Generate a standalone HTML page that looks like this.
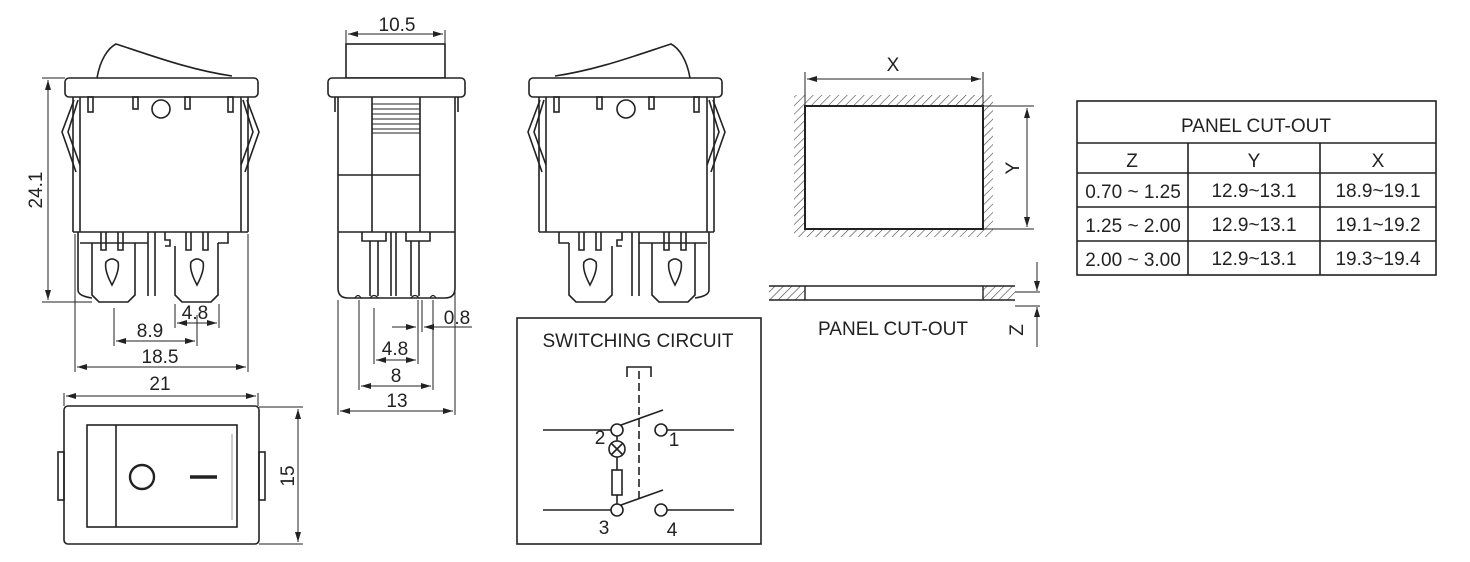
<!DOCTYPE html>
<html><head><meta charset="utf-8"><style>
html,body{margin:0;padding:0;background:#fff;}
svg{display:block;font-family:"Liberation Sans",sans-serif;}
</style></head><body>
<svg width="1470" height="562" viewBox="0 0 1470 562" xmlns="http://www.w3.org/2000/svg">
<defs>
<marker id="a" viewBox="0 0 10 6" refX="10" refY="3" markerWidth="10" markerHeight="6" orient="auto-start-reverse" markerUnits="userSpaceOnUse"><path d="M0,0 L10,3 L0,6 z" fill="#222"/></marker>
<pattern id="h" width="6" height="6" patternUnits="userSpaceOnUse" patternTransform="rotate(45)"><line x1="0" y1="0" x2="0" y2="6" stroke="#444" stroke-width="1.2"/></pattern>
<g id="front" fill="none" stroke="#222" stroke-width="1.6">
<path d="M97,78 C100,60 108,48 116,44 C150,55 190,70 232,76"/>
<rect x="65" y="78" width="193" height="19" rx="4" fill="#fff"/>
<path d="M73,97 V232 M248,97 V232 M80,97 V232 M241,97 V232"/>
<path d="M73,232 H248"/>
<path d="M74,100 L62,132 L76,172 M78,100 L68,132 L80,165 M247,100 L259,132 L245,172 M243,100 L253,132 L241,165"/>
<rect x="88" y="97" width="5" height="15"/><rect x="133" y="97" width="5" height="12"/><rect x="185" y="97" width="5" height="12"/><rect x="228" y="97" width="5" height="15"/>
<circle cx="161" cy="109" r="9"/>
<path d="M78,232 V290 Q78,296 92,298"/>
<path d="M92,243 V295 L99,302 H128 L135,295 V243"/>
<path d="M80,243 H148 M101,232 V250 H106 V232 M118,232 V250 H123 V232"/>
<path d="M148,232 V296 M155,232 V296"/>
<path d="M165,232 V240 H170 V246 H165 M175,246 V295 L182,302 H211 L218,295 V243 M218,243 H228 V232 M186,232 V250 H191 V232 M203,232 V250 H208 V232"/>
<path d="M106,262 Q112,256 118,262 Q120,270 112,285 Q104,270 106,262 z"/>
<path d="M191,262 Q197,256 203,262 Q205,270 197,285 Q189,270 191,262 z"/>
</g>
</defs>

<use href="#front"/>
<g stroke="#222" stroke-width="1" fill="none">
<line x1="42" y1="78" x2="65" y2="78"/><line x1="42" y1="302" x2="92" y2="302"/>
<line x1="48" y1="80" x2="48" y2="300" marker-start="url(#a)" marker-end="url(#a)"/>
<line x1="75" y1="234" x2="75" y2="372"/><line x1="248" y1="234" x2="248" y2="372"/>
<line x1="77" y1="367" x2="246" y2="367" marker-start="url(#a)" marker-end="url(#a)"/>
<line x1="114" y1="308" x2="114" y2="346"/><line x1="197" y1="315" x2="197" y2="346"/>
<line x1="116" y1="341" x2="195" y2="341" marker-start="url(#a)" marker-end="url(#a)"/>
<line x1="175" y1="304" x2="175" y2="328"/><line x1="219" y1="304" x2="219" y2="328"/>
<line x1="177" y1="323" x2="217" y2="323" marker-start="url(#a)" marker-end="url(#a)"/>
</g>
<g font-size="19" fill="#222" text-anchor="middle">
<text transform="translate(42,190) rotate(-90)">24.1</text>
<text x="160" y="363">18.5</text><text x="150" y="337">8.9</text><text x="195" y="319">4.8</text>
</g>

<g fill="none" stroke="#222" stroke-width="1.6">
<rect x="346" y="44" width="99" height="34"/>
<rect x="328" y="78" width="137" height="19" rx="4" fill="#fff"/>
<path d="M338,97 V288 Q338,298 348,298 H445 Q455,298 455,288 V97"/>
<path d="M335,97 V112 M458,97 V112"/>
<path d="M372,97 V232 M420,97 V232 M338,175 H420 M338,232 H455"/>
<path d="M372,104 H420 M372,109 H420 M372,114 H420 M372,119 H420 M372,124 H420 M372,129 H420 M372,133 H420" stroke-width="1"/>
<path d="M362,232 V241 H386 V232 M406,232 V241 H430 V232"/>
<path d="M370,241 V296 M378,241 V296 M411,241 V296 M419,241 V296 M391,232 V296 M396,232 V296"/>
<path d="M355,298 Q358,293 361,298 M370,298 Q374,293 378,298 M411,298 Q415,293 419,298 M430,298 Q433,293 436,298" stroke-width="1.2"/>
</g>
<g stroke="#222" stroke-width="1" fill="none">
<line x1="346" y1="30" x2="346" y2="44"/><line x1="445" y1="30" x2="445" y2="44"/>
<line x1="348" y1="34" x2="443" y2="34" marker-start="url(#a)" marker-end="url(#a)"/>
<line x1="338" y1="300" x2="338" y2="415"/><line x1="455" y1="112" x2="455" y2="415"/>
<line x1="340" y1="411" x2="453" y2="411" marker-start="url(#a)" marker-end="url(#a)"/>
<line x1="359" y1="300" x2="359" y2="390"/><line x1="433" y1="300" x2="433" y2="390"/>
<line x1="361" y1="386" x2="431" y2="386" marker-start="url(#a)" marker-end="url(#a)"/>
<line x1="374" y1="308" x2="374" y2="364"/><line x1="418" y1="300" x2="418" y2="364"/>
<line x1="376" y1="360" x2="416" y2="360" marker-start="url(#a)" marker-end="url(#a)"/>
<line x1="422" y1="300" x2="422" y2="332"/>
<line x1="392" y1="327" x2="416" y2="327" marker-end="url(#a)"/>
<line x1="472" y1="327" x2="424" y2="327" marker-end="url(#a)"/>
</g>
<g font-size="19" fill="#222" text-anchor="middle">
<text x="397" y="31">10.5</text><text x="397" y="407">13</text><text x="396" y="382">8</text><text x="395" y="355">4.8</text><text x="457" y="324">0.8</text>
</g>

<use href="#front" transform="translate(787,0) scale(-1,1)"/>

<g fill="none" stroke="#222" stroke-width="1.6">
<rect x="64" y="406" width="195" height="138" rx="4"/>
<rect x="58" y="452" width="6" height="48"/><rect x="259" y="452" width="6" height="48"/>
<rect x="87" y="425" width="150" height="102"/>
<line x1="116" y1="425" x2="116" y2="527"/>
<circle cx="142" cy="477" r="12" stroke-width="2.4"/>
<line x1="190" y1="477" x2="217" y2="477" stroke-width="3.5"/>
<line x1="232" y1="434" x2="232" y2="520" stroke-width="1" stroke="#999"/>
</g>
<g stroke="#222" stroke-width="1" fill="none">
<line x1="64" y1="393" x2="64" y2="406"/><line x1="258" y1="393" x2="258" y2="406"/>
<line x1="66" y1="396" x2="256" y2="396" marker-start="url(#a)" marker-end="url(#a)"/>
<line x1="259" y1="407" x2="303" y2="407"/><line x1="259" y1="544" x2="303" y2="544"/>
<line x1="298" y1="409" x2="298" y2="542" marker-start="url(#a)" marker-end="url(#a)"/>
</g>
<g font-size="19" fill="#222" text-anchor="middle">
<text x="160" y="390">21</text>
<text transform="translate(294,476) rotate(-90)">15</text>
</g>

<g fill="none" stroke="#222" stroke-width="1.6">
<rect x="517" y="318" width="244" height="226"/>
<path d="M627,377 V367 H651 V377"/>
<line x1="639" y1="371" x2="639" y2="502" stroke-dasharray="8,4"/>
<line x1="543" y1="430" x2="611" y2="430"/><line x1="667" y1="430" x2="734" y2="430"/>
<circle cx="617" cy="430" r="6"/><circle cx="661" cy="430" r="6"/>
<line x1="621" y1="425" x2="663" y2="410"/>
<line x1="617" y1="436" x2="617" y2="441"/>
<circle cx="617" cy="449" r="8"/><path d="M611,443 L623,455 M623,443 L611,455"/>
<line x1="617" y1="457" x2="617" y2="470"/>
<rect x="612" y="470" width="10" height="25"/>
<line x1="617" y1="495" x2="617" y2="504"/>
<line x1="543" y1="510" x2="611" y2="510"/><line x1="667" y1="510" x2="734" y2="510"/>
<circle cx="617" cy="510" r="6"/><circle cx="661" cy="510" r="6"/>
<line x1="621" y1="505" x2="663" y2="490"/>
</g>
<g font-size="19" fill="#222" text-anchor="middle">
<text x="638" y="347">SWITCHING CIRCUIT</text>
<text x="600" y="444">2</text><text x="674" y="446">1</text>
<text x="604" y="534">3</text><text x="672" y="536">4</text>
</g>

<path d="M794,95 H993 V237 H794 z M805,106 V229 H983 V106 z" fill="url(#h)" fill-rule="evenodd"/>
<rect x="805" y="106" width="178" height="123" fill="none" stroke="#222" stroke-width="2"/>
<rect x="769" y="286" width="36" height="14" fill="url(#h)"/>
<rect x="983" y="286" width="32" height="14" fill="url(#h)"/>
<g stroke="#222" stroke-width="1.4" fill="none">
<line x1="769" y1="286" x2="1015" y2="286"/><line x1="769" y1="300" x2="1015" y2="300"/>
<line x1="805" y1="286" x2="805" y2="300"/><line x1="983" y1="286" x2="983" y2="300"/>
</g>
<g stroke="#222" stroke-width="1" fill="none">
<line x1="805" y1="72" x2="805" y2="106"/><line x1="983" y1="72" x2="983" y2="106"/>
<line x1="807" y1="79" x2="981" y2="79" marker-start="url(#a)" marker-end="url(#a)"/>
<line x1="983" y1="106" x2="1034" y2="106"/><line x1="983" y1="229" x2="1034" y2="229"/>
<line x1="1027" y1="108" x2="1027" y2="227" marker-start="url(#a)" marker-end="url(#a)"/>
<line x1="1015" y1="292" x2="1040" y2="292"/><line x1="1015" y1="306" x2="1040" y2="306"/>
<line x1="1037" y1="262" x2="1037" y2="291" marker-end="url(#a)"/>
<line x1="1037" y1="347" x2="1037" y2="307" marker-end="url(#a)"/>
</g>
<g font-size="19" fill="#222" text-anchor="middle">
<text x="893" y="71">X</text>
<text transform="translate(1019,168) rotate(-90)">Y</text>
<text x="893" y="335">PANEL CUT-OUT</text>
<text transform="translate(1023,330) rotate(-90)">Z</text>
</g>

<g fill="none" stroke="#222" stroke-width="1.6">
<rect x="1077" y="101" width="359" height="174"/>
<line x1="1077" y1="143" x2="1436" y2="143"/>
<line x1="1077" y1="173" x2="1436" y2="173"/>
<line x1="1077" y1="207" x2="1436" y2="207"/>
<line x1="1077" y1="241" x2="1436" y2="241"/>
<line x1="1188" y1="143" x2="1188" y2="275"/>
<line x1="1320" y1="143" x2="1320" y2="275"/>
</g>
<g font-size="19" fill="#222" text-anchor="middle">
<text x="1256" y="132">PANEL CUT-OUT</text>
<text x="1132" y="167">Z</text><text x="1254" y="167">Y</text><text x="1378" y="167">X</text>
<text x="1133" y="198">0.70 ~ 1.25</text><text x="1254" y="197">12.9~13.1</text><text x="1378" y="197">18.9~19.1</text>
<text x="1133" y="232">1.25 ~ 2.00</text><text x="1254" y="231">12.9~13.1</text><text x="1378" y="231">19.1~19.2</text>
<text x="1133" y="266">2.00 ~ 3.00</text><text x="1254" y="265">12.9~13.1</text><text x="1378" y="265">19.3~19.4</text>
</g>
</svg>
</body></html>
